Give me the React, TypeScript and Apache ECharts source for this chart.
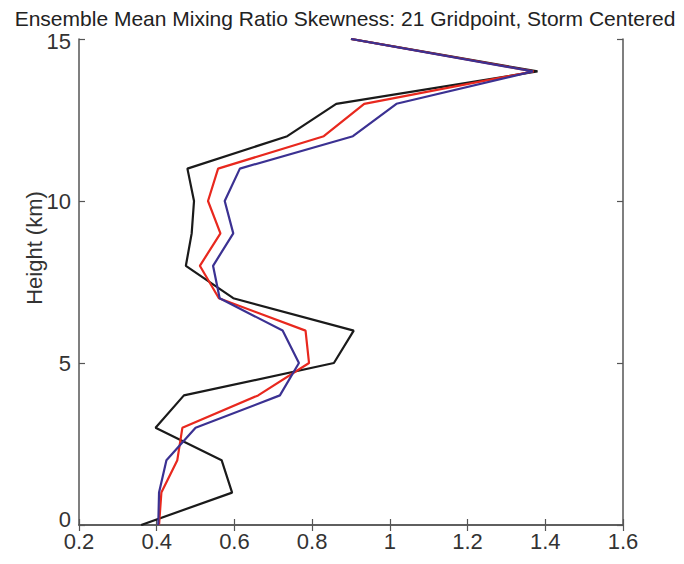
import React, { useEffect, useRef } from "react";
import * as echarts from "echarts";

const heights = [0, 1, 2, 3, 4, 5, 6, 7, 8, 9, 10, 11, 12, 13, 14, 15];
const blackValues = [0.36, 0.594, 0.567, 0.397, 0.47, 0.856, 0.907, 0.597, 0.475, 0.49, 0.496, 0.479, 0.736, 0.862, 1.38, 0.9];
const redValues = [0.406, 0.412, 0.453, 0.466, 0.661, 0.792, 0.783, 0.56, 0.511, 0.564, 0.532, 0.558, 0.83, 0.934, 1.37, 0.9];
const blueValues = [0.404, 0.406, 0.425, 0.5, 0.717, 0.766, 0.724, 0.562, 0.545, 0.597, 0.575, 0.614, 0.905, 1.017, 1.368, 0.9];
const titleText = "Ensemble Mean Mixing Ratio Skewness: 21 Gridpoint, Storm Centered";
const yName = "Height (km)";

const FONT = "'Liberation Sans', Arial, sans-serif";

export default function App() {
  const ref = useRef<HTMLDivElement>(null);
  useEffect(() => {
    if (!ref.current) return;
    const chart = echarts.init(ref.current, undefined, { renderer: "svg" });
    const mk = (vals: number[]) => vals.map((v, i) => [v, heights[i]]);
    const axisLine = { show: true, lineStyle: { color: "#555", width: 1.5 } };
    const tick = { show: true, inside: true, length: 6, lineStyle: { color: "#555", width: 1.2 } };
    chart.setOption({
      animation: false,
      backgroundColor: "#fff",
      title: {
        text: titleText,
        left: 340,
        textAlign: "center",
        top: 3,
        textStyle: { fontFamily: FONT, fontSize: 21, fontWeight: "normal", color: "#222" },
      },
      grid: { left: 79, right: 61, top: 39, bottom: 39 },
      xAxis: [
        {
          type: "value",
          min: 0.2,
          max: 1.6,
          interval: 0.2,
          position: "bottom",
          axisLine,
          axisTick: tick,
          splitLine: { show: false },
          axisLabel: { fontFamily: FONT, fontSize: 22, color: "#333", margin: 5 },
        },
        {
          type: "value",
          min: 0.2,
          max: 1.6,
          interval: 0.2,
          position: "top",
          axisLine,
          axisTick: tick,
          splitLine: { show: false },
          axisLabel: { show: false },
        },
      ],
      yAxis: [
        {
          type: "value",
          min: 0,
          max: 15,
          interval: 5,
          position: "left",
          axisLine,
          axisTick: tick,
          splitLine: { show: false },
          axisLabel: {
            fontFamily: FONT,
            fontSize: 22,
            color: "#333",
            margin: 8,
            formatter: (v: number) => (v === 0 ? "{z|0}" : v === 15 ? "{t|15}" : String(v)),
            rich: {
              z: { fontFamily: FONT, fontSize: 22, color: "#333", padding: [0, 0, 12, 0] },
              t: { fontFamily: FONT, fontSize: 22, color: "#333", padding: [4, 0, 0, 0] },
            },
          },
        },
        {
          type: "value",
          min: 0,
          max: 15,
          interval: 5,
          position: "right",
          axisLine,
          axisTick: tick,
          splitLine: { show: false },
          axisLabel: { show: false },
        },
      ],
      graphic: [
        {
          type: "text",
          x: 34,
          y: 248,
          rotation: Math.PI / 2,
          style: {
            text: yName,
            fontFamily: FONT,
            fontSize: 22,
            fill: "#333",
            align: "center",
            verticalAlign: "middle",
          },
        },
      ],
      series: [
        { type: "line", data: mk(blackValues), showSymbol: false, lineStyle: { color: "#1a1a1a", width: 2.2 } },
        { type: "line", data: mk(redValues), showSymbol: false, lineStyle: { color: "#e8281e", width: 2.2 } },
        { type: "line", data: mk(blueValues), showSymbol: false, lineStyle: { color: "#3b3192", width: 2.2 } },
      ],
    });
    return () => chart.dispose();
  }, []);
  return (
    <div
      ref={ref}
      style={{ position: "fixed", left: 0, top: 0, width: 684, height: 564, background: "#fff" }}
    />
  );
}
